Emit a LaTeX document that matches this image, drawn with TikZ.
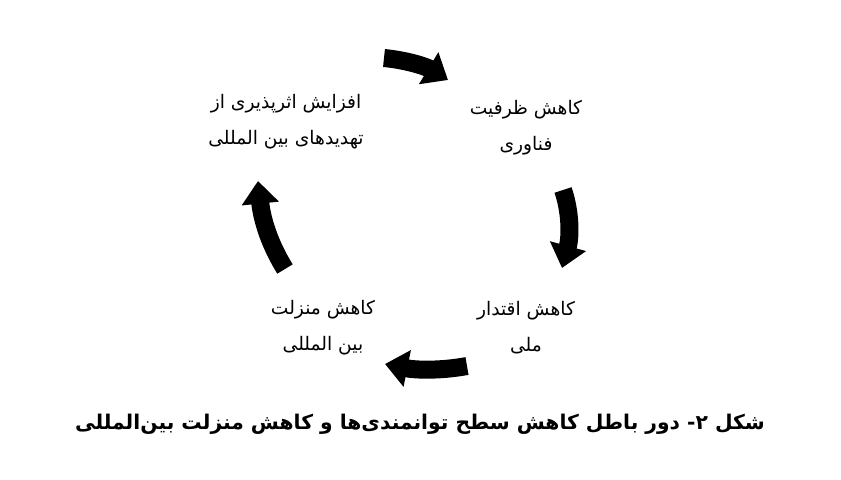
\documentclass[tikz,border=0pt]{standalone}
\usepackage{fontspec}
\usetikzlibrary{arrows.meta}
\TeXXeTstate=1
\newfontfamily\arabicfont[Script=Arabic]{DejaVu Sans}
\newfontfamily\arabicbold[Script=Arabic]{DejaVu Sans Bold}
\begin{document}
\begin{tikzpicture}[x=0.75pt,y=-0.75pt,
  lbl/.style={align=center,inner sep=0pt,font=\arabicfont\fontsize{14}{27}\selectfont},
  cyc/.style={line width=13.5pt,-{Triangle[width=27pt,length=17pt]}}]
\useasboundingbox (0,0) rectangle (841,479);
\node[lbl] (a) at (286,122) {\beginR افزایش اثرپذیری از\endR\\\beginR تهدیدهای بین المللی\endR};
\node[lbl] (b) at (526,128) {\beginR کاهش ظرفیت\endR\\\beginR فناوری\endR};
\node[lbl] (c) at (526,328) {\beginR کاهش اقتدار\endR\\\beginR ملی\endR};
\node[lbl] (d) at (323,328) {\beginR کاهش منزلت\endR\\\beginR بین المللی\endR};
\coordinate (t1) at (384,58);  \coordinate (t2) at (448,80);
\coordinate (r1) at (563,190); \coordinate (r2) at (562,268);
\coordinate (b1) at (467,366); \coordinate (b2) at (385,364);
\coordinate (l1) at (285,269); \coordinate (l2) at (258,181);
\draw[cyc] (t1) .. controls (405,60) and (425,66) .. (t2);
\draw[cyc] (r1) .. controls (570,210) and (571,235) .. (r2);
\draw[cyc] (b1) .. controls (440,371) and (415,370) .. (b2);
\draw[cyc] (l1) .. controls (270,245) and (262,220) .. (l2);
\node[font=\arabicbold\fontsize{15.2}{18}\selectfont,inner sep=0pt] (cap) at (420,424) {\beginR شکل ۲- دور باطل کاهش سطح توانمندی‌ها و کاهش منزلت بین‌المللی\endR};
\end{tikzpicture}
\end{document}
